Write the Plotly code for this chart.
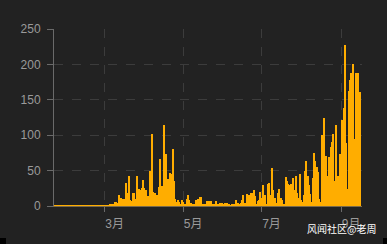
import datetime as dt
import plotly.graph_objects as go

start_date = "2022-01-21"
early = [1] * 39  # Jan 21 - Feb 28
march_on = [
    1, 1, 1, 1, 2, 2, 3, 2, 5, 6, 4,
    16, 12, 11, 10, 10, 9, 33, 19, 42, 8, 7, 19, 18, 10, 43, 23, 24, 22, 25, 37,
    26, 23, 14, 14, 50, 49, 102, 20, 19, 15, 15, 27, 67, 26, 28, 115, 41, 73, 38,
    26, 46, 45, 81, 36,
    10, 6, 8, 5, 3, 8, 5, 3, 2, 10, 16, 8, 4, 2, 3, 3, 9, 5, 10, 13, 13, 3, 3, 2,
    3, 7, 7, 2, 7, 2, 2,
    1, 7, 3, 3, 4, 4, 2, 2, 4, 4, 2, 2, 1, 2, 2, 3, 9, 4, 4, 3, 4, 9, 15, 4, 4,
    17, 16, 9, 19, 18, 23, 14, 2, 7, 8, 20, 11, 30, 12, 15, 3, 31, 32, 15, 54, 22,
    5, 12, 4, 18, 24, 12, 8, 2, 3,
    41, 36, 31, 30, 31, 24, 39, 22, 42, 19, 12, 45, 8, 5, 15, 49, 64, 43, 29, 17,
    5, 40, 75, 63, 55, 48, 10, 6, 100, 83, 124, 70, 42, 15, 69, 84, 91, 102, 36,
    115, 36, 43, 74, 73, 122, 139, 227, 89, 24, 162, 178, 188, 201, 95, 49, 188,
    188, 161, 161,
]
values = early + march_on

tick_dates = ["2022-03-01", "2022-05-01", "2022-07-01", "2022-09-01"]
tick_labels = ["3月", "5月", "7月", "9月"]
y_ticks = [0, 50, 100, 150, 200, 250]

d0 = dt.date.fromisoformat(start_date)
dates = [d0 + dt.timedelta(days=i) for i in range(len(values))]

fig = go.Figure(go.Bar(x=dates, y=values, marker=dict(color="#FFAD00", line=dict(width=0))))

font = "Liberation Sans, Noto Sans CJK SC, sans-serif"
fig.update_layout(
    width=387, height=244,
    margin=dict(l=54, r=25, t=29, b=38),
    paper_bgcolor="#222222", plot_bgcolor="#222222",
    bargap=0, showlegend=False,
    font=dict(family=font, size=12, color="#9a9a9a"),
)
fig.update_xaxes(
    type="date",
    range=["2022-01-20 13:00", "2022-09-17 05:00"],
    tickvals=tick_dates, ticktext=tick_labels,
    ticks="outside", ticklen=5, tickcolor="#6a6a6a",
    showline=True, linecolor="#7a6a4a", linewidth=1,
    showgrid=True, gridcolor="#3c3c3c", griddash="dash", gridwidth=1,
    zeroline=False, ticklabelshift=10, ticklabelstandoff=2,
    layer="below traces",
    tickfont=dict(size=12, color="#9a9a9a"),
)
fig.update_yaxes(
    range=[0, 250], tickvals=y_ticks,
    ticks="outside", ticklen=6, tickcolor="#6a6a6a",
    showline=True, linecolor="#6a6a6a", linewidth=1,
    showgrid=True, gridcolor="#3c3c3c", griddash="dash", gridwidth=1,
    zeroline=False, ticklabelstandoff=4,
    tickfont=dict(size=12, color="#9a9a9a"),
)
fig.add_annotation(
    text="风闻社区@老周", xref="paper", yref="paper", x=1.0, y=0, xshift=16, yshift=-22,
    xanchor="right", yanchor="middle", showarrow=False,
    font=dict(family="Noto Sans CJK SC", size=10, color="#ffffff"),
)
# small black corner blocks seen in the reference image
pw, ph = 308.0, 177.0
for x0, x1 in [(0, 6), (383, 387)]:
    fig.add_shape(
        type="rect", xref="paper", yref="paper",
        x0=(x0 - 54) / pw, x1=(x1 - 54) / pw,
        y0=(206 - 244) / ph, y1=(206 - 238) / ph,
        fillcolor="#000000", line=dict(width=0), layer="above",
    )
fig.write_html("out.html")
